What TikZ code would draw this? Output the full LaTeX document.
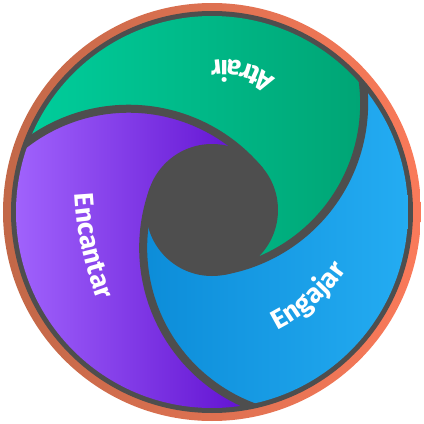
\documentclass[tikz,border=0pt]{standalone}
\usepackage{amsmath}
\usepackage{fontspec}
\setmainfont{Fira Sans}
\usetikzlibrary{decorations.text}

\definecolor{rimgray}{RGB}{78,78,78}
\definecolor{rimL}{RGB}{194,104,72}
\definecolor{rimR}{RGB}{250,122,90}
\definecolor{atrairL}{RGB}{0,206,156}
\definecolor{atrairR}{RGB}{0,164,116}
\definecolor{engajarL}{RGB}{12,140,216}
\definecolor{engajarR}{RGB}{36,172,242}
\definecolor{encantarL}{RGB}{160,98,252}
\definecolor{encantarR}{RGB}{96,16,208}

\newcommand\swirlfont[1]{\bfseries\fontsize{#1}{#1}\selectfont}

\begin{document}
\begin{tikzpicture}[x=1pt,y=1pt,
  rim/.style={fill=rimgray},
  seam/.style={draw=rimgray,line width=8pt},
  swirl label/.style n args={2}{decorate,decoration={text along path,text={|\swirlfont{#1}|#2},text align=center,text color=white}}]
\useasboundingbox (-212,-212) rectangle (212,212);

\coordinate (hub) at (0,2);
\coordinate (seamBP) at (101.16,-35.82);
\coordinate (seamPG) at (-83.33,-66.70);
\coordinate (seamGB) at (-17.82,108.52);

%Shape: Outer ring
\begin{scope}
\clip (0,0) circle (209);
\shade[left color=rimL,right color=rimR] (-209,-209) rectangle (209,209);
\end{scope}
\fill[rim] (0,0) circle (201);

\begin{scope}
\clip (0,0) circle (196);
%Shape: Atrair band
\begin{scope}
\clip (seamGB) ++(24.5:170) arc[start angle=24.5,end angle=-80.5,radius=170]
  arc[start angle=-80.5,end angle=39.5,radius=62]
  arc[start angle=39.5,end angle=144.5,radius=170]
  -- (-260,40) -- (-260,260) -- (260,260) -- cycle;
\shade[left color=atrairL,right color=atrairR] (-190,-196) rectangle (156,196);
\end{scope}
%Shape: Encantar band
\begin{scope}
\clip (seamPG) ++(144.5:170) arc[start angle=144.5,end angle=39.5,radius=170]
  arc[start angle=39.5,end angle=159.5,radius=62]
  arc[start angle=159.5,end angle=264.5,radius=170]
  -- (60,-260) -- (-260,-260) -- (-260,40) -- cycle;
\shade[left color=encantarL,right color=encantarR] (-196,-196) rectangle (40,196);
\end{scope}
%Shape: Engajar band
\begin{scope}
\clip (seamBP) ++(264.5:170) arc[start angle=264.5,end angle=159.5,radius=170]
  arc[start angle=159.5,end angle=279.5,radius=62]
  arc[start angle=279.5,end angle=384.5,radius=170]
  -- (260,260) -- (260,-260) -- (60,-260) -- cycle;
\shade[left color=engajarL,right color=engajarR] (-72,-196) rectangle (196,196);
\end{scope}
\end{scope}

%Seams between the bands
\begin{scope}
\clip (0,0) circle (199);
\draw[seam] (seamBP) ++(264.5:170) arc[start angle=264.5,end angle=159.5,radius=170];
\draw[seam] (seamPG) ++(144.5:170) arc[start angle=144.5,end angle=39.5,radius=170];
\draw[seam] (seamGB) ++(24.5:170) arc[start angle=24.5,end angle=-80.5,radius=170];
\end{scope}

%Shape: Hub
\fill[rim] (hub) circle (66);

% Text along the bands
\coordinate (atrairarc) at (12,72);
\coordinate (encantararc) at (212.4,36.8);
\coordinate (engajararc) at (-17.7,47);
\path[swirl label={27}{Atrair}] (atrairarc) ++(36:80) arc[start angle=36,end angle=114,radius=80];
\path[swirl label={27}{Encantar}] (encantararc) ++(177:350) arc[start angle=177,end angle=207,radius=350];
\path[swirl label={27}{Engajar}] (engajararc) ++(-76:185) arc[start angle=-76,end angle=-22,radius=185];

\end{tikzpicture}
\end{document}
